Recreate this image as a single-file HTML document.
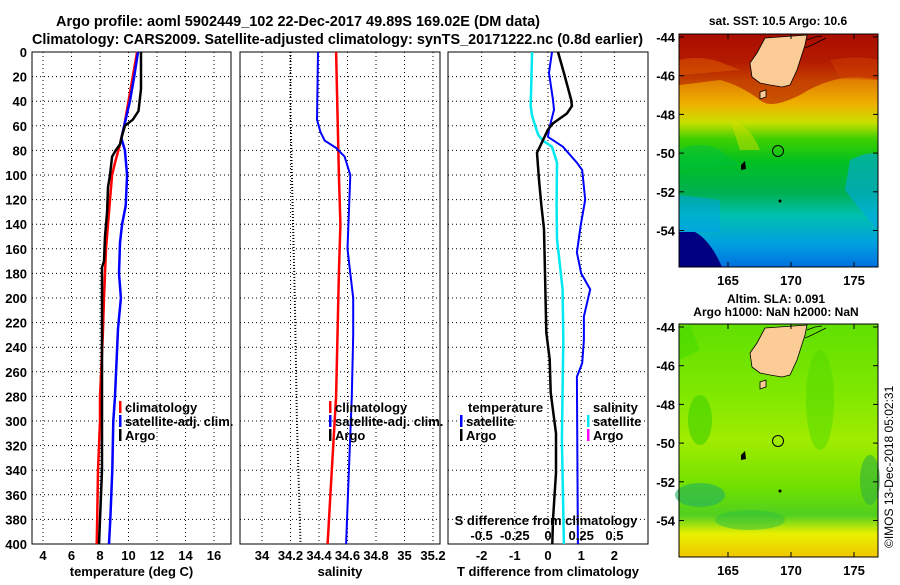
<!DOCTYPE html>
<html><head><meta charset="utf-8">
<style>
html,body{margin:0;padding:0;background:#fff;}
body{width:900px;height:580px;overflow:hidden;position:relative;font-family:"Liberation Sans",sans-serif;}
svg text{font-family:"Liberation Sans",sans-serif;font-weight:bold;}
</style></head>
<body>
<svg id="chart" width="900" height="580" viewBox="0 0 900 580" xmlns="http://www.w3.org/2000/svg">
<defs>
<linearGradient id="sstGrad" x1="0" y1="0" x2="0" y2="1">
<stop offset="0" stop-color="#a00000"/>
<stop offset="0.12" stop-color="#b82000"/>
<stop offset="0.2" stop-color="#e08000"/>
<stop offset="0.3" stop-color="#f0b000"/>
<stop offset="0.38" stop-color="#c8e000"/>
<stop offset="0.45" stop-color="#40d000"/>
<stop offset="0.55" stop-color="#00c020"/>
<stop offset="0.68" stop-color="#00b050"/>
<stop offset="0.78" stop-color="#00c0b0"/>
<stop offset="0.9" stop-color="#00a0e0"/>
<stop offset="1" stop-color="#0070e0"/>
</linearGradient>
<linearGradient id="slaGrad" x1="0" y1="0" x2="0" y2="1">
<stop offset="0" stop-color="#60e000"/>
<stop offset="0.3" stop-color="#80e800"/>
<stop offset="0.5" stop-color="#a0ec00"/>
<stop offset="0.7" stop-color="#70e000"/>
<stop offset="0.82" stop-color="#50d020"/>
<stop offset="0.9" stop-color="#e8f000"/>
<stop offset="1" stop-color="#f0c800"/>
</linearGradient>
</defs>
<g id="titles">
<text x="56" y="26" font-size="15" textLength="484" lengthAdjust="spacingAndGlyphs">Argo profile: aoml 5902449_102 22-Dec-2017 49.89S 169.02E (DM data)</text>
<text x="32" y="44" font-size="15" textLength="611" lengthAdjust="spacingAndGlyphs">Climatology: CARS2009. Satellite-adjusted climatology: synTS_20171222.nc (0.8d earlier)</text>
</g>
<g id="panels"></g>
<g id="maps">
<text x="778" y="25" font-size="12" text-anchor="middle">sat. SST: 10.5 Argo: 10.6</text>
<g>
<rect x="679" y="34" width="199" height="233" fill="url(#sstGrad)"/>
<path d="M679 34 L878 34 L878 80 Q840 70 800 95 Q770 110 760 100 Q740 85 720 80 L679 85Z" fill="#b01800" opacity="0.6"/>
<path d="M679 60 Q700 55 720 62 L740 70 L679 75Z" fill="#e06000" opacity="0.5"/>
<path d="M830 60 Q860 55 878 60 L878 80 L840 78Z" fill="#d04000" opacity="0.5"/>
<path d="M679 150 Q700 140 720 150 L740 165 L679 170Z" fill="#00c040" opacity="0.5"/>
<path d="M730 120 Q750 125 760 150 L740 150Z" fill="#d0e000" opacity="0.5"/>
<path d="M850 160 Q870 150 878 155 L878 230 Q860 210 845 190Z" fill="#00a8e8" opacity="0.6"/>
<path d="M679 232 L695 232 Q710 240 722 267 L679 267Z" fill="#000080"/>
<path d="M679 195 L720 200 L720 232 L679 232Z" fill="#00a0f0" opacity="0.5"/>
<path d="M765 38 L807 35 L805 45 L797 70 L790 85 L782 87 L770 85 L760 83 L752 77 L750 63 L757 53Z" fill="#fccc96" stroke="#000" stroke-width="0.8"/>
<path d="M760 92 L766 90 L766 97 L760 99Z" fill="#fccc96" stroke="#000" stroke-width="0.8"/>
<path d="M807 40 L815 37 L822 36 M805 48 L812 45 L818 42 L826 38" fill="none" stroke="#000" stroke-width="0.7"/>
<path d="M741 165 L745 161 L746 169 L741 170Z" fill="#000"/>
<circle cx="780" cy="201" r="1.5" fill="#000"/>
<circle cx="778" cy="151" r="5.5" fill="none" stroke="#000" stroke-width="1"/>
<rect x="679" y="34" width="199" height="233" fill="none" stroke="#000"/>
</g>
<text x="776" y="303" font-size="12" text-anchor="middle">Altim. SLA: 0.091</text>
<text x="776" y="316" font-size="12" text-anchor="middle">Argo h1000: NaN h2000: NaN</text>
<g>
<rect x="679" y="324" width="199" height="233" fill="url(#slaGrad)"/>
<ellipse cx="700" cy="420" rx="12" ry="25" fill="#40d000" opacity="0.6"/>
<ellipse cx="820" cy="400" rx="14" ry="50" fill="#50d800" opacity="0.5"/>
<ellipse cx="700" cy="495" rx="25" ry="12" fill="#20b060" opacity="0.6"/>
<ellipse cx="750" cy="520" rx="35" ry="10" fill="#30c040" opacity="0.5"/>
<ellipse cx="870" cy="480" rx="10" ry="25" fill="#30b040" opacity="0.6"/>
<path d="M679 330 L690 325 L700 350 L679 360Z" fill="#40d800" opacity="0.5"/>
<path d="M765 328 L807 325 L805 335 L797 360 L790 375 L782 377 L770 375 L760 373 L752 367 L750 353 L757 343Z" fill="#fccc96" stroke="#000" stroke-width="0.8"/>
<path d="M760 382 L766 380 L766 387 L760 389Z" fill="#fccc96" stroke="#000" stroke-width="0.8"/>
<path d="M807 330 L815 327 L822 326 M805 338 L812 335 L818 332 L826 328" fill="none" stroke="#000" stroke-width="0.7"/>
<path d="M741 455 L745 451 L746 459 L741 460Z" fill="#000"/>
<circle cx="780" cy="491" r="1.5" fill="#000"/>
<circle cx="778" cy="441" r="5.5" fill="none" stroke="#000" stroke-width="1"/>
<rect x="679" y="324" width="199" height="233" fill="none" stroke="#000"/>
</g>
<text transform="translate(893,548) rotate(-90)" font-size="12" style="font-weight:normal">©IMOS 13-Dec-2018 05:02:31</text>
<g id="mapticks"></g>
</g>
</svg>
<script>
// ---------- data ----------
const depthTicks = [0,20,40,60,80,100,120,140,160,180,200,220,240,260,280,300,320,340,360,380,400];
const tempTicks = [4,6,8,10,12,14,16];
const salTicks = [34,34.2,34.4,34.6,34.8,35,35.2];
const salTickLabels = ['34','34.2','34.4','34.6','34.8','35','35.2'];
const tdiffTicks = [-2,-1,0,1,2];
const sdiffTicks = [-0.5,-0.25,0,0.25,0.5];

const argoTDepth = [0,30,48,55,60,70,75,80,85,100,110,130,150,170,175,220,280,300,340,380,400];
const argoTemp =   [10.88,10.88,10.7,10.3,9.75,9.5,9.4,9.1,8.85,8.7,8.56,8.5,8.35,8.28,8.14,8.14,8.14,8.14,8.14,8.0,7.93];
const climTDepth = [0,20,40,60,75,90,100,120,140,160,180,200,230,280,300,340,380,400];
const climTemp =   [10.6,10.3,10.0,9.7,9.4,9.05,8.85,8.7,8.56,8.42,8.35,8.28,8.2,8.0,8.0,7.86,7.8,7.77];
const satTDepth = [0,20,40,60,70,80,100,125,140,155,180,200,225,280,300,340,380,400];
const satTemp =   [10.67,10.4,10.1,9.7,9.5,9.75,9.9,9.8,9.55,9.4,9.33,9.47,9.26,9.05,8.93,8.86,8.72,8.63];

const salDepth = [0,55,65,72,78,85,100,130,160,180,200,230,280,340,400];
const satSal =   [34.393,34.386,34.41,34.44,34.52,34.58,34.62,34.61,34.60,34.62,34.64,34.64,34.63,34.61,34.59];
const climSalDepth = [0,50,100,140,180,230,280,340,400];
const climSal =      [34.52,34.53,34.54,34.55,34.54,34.53,34.52,34.49,34.46];
const argoSalDepth = [0,50,100,200,300,400];
const argoSal =      [34.2,34.2,34.21,34.23,34.245,34.27];

const tdArgoDepth = [0,17,39,44,50,58,63,82,104,125,144,180,228,250,277,310,342,380,400];
const tdArgo =      [0.3,0.48,0.7,0.72,0.57,0.15,0,-0.33,-0.27,-0.2,-0.12,-0.09,-0.05,0.05,0.08,0.24,0.24,0.15,0.13];
const tdSatDepth = [0,17,39,47,63,69,77,90,96,120,142,163,180,193,215,234,253,264,400];
const tdSat =      [0.12,0.03,0.15,0.18,0.03,0.0,0.45,0.87,1.03,1.12,0.98,0.87,1.0,1.27,1.08,1.08,1.03,0.87,0.9];
const sdSatDepth = [0,44,52,67,72,77,90,125,152,193,234,315,400];
const sdSat =      [-0.12,-0.13,-0.12,-0.075,-0.04,0.03,0.068,0.065,0.068,0.11,0.115,0.105,0.12];

// ---------- axes ----------
const Y0 = 52, Y1 = 544;
const yD = d => Y0 + d * (Y1 - Y0) / 400;
const xT = t => 43 + (t - 4) * 14.25;
const xS = s => 262 + (s - 34) * 142.5;
const xTD = v => 548 + v * 33.2;
const xSD = v => 548 + v * 4 * 33.2;

const NS = 'http://www.w3.org/2000/svg';
const panelsG = document.getElementById('panels');
function mk(tag, attrs, parent) {
  const e = document.createElementNS(NS, tag);
  for (const k in attrs) e.setAttribute(k, attrs[k]);
  (parent || panelsG).appendChild(e);
  return e;
}
function txt(str, x, y, size, anchor, parent) {
  const t = mk('text', {x: x, y: y, 'font-size': size, 'text-anchor': anchor || 'middle'}, parent);
  t.textContent = str;
  return t;
}
function polyline(xs, ds, fx, color, width, dash, name) {
  const pts = xs.map((v, i) => fx(v).toFixed(1) + ',' + yD(ds[i]).toFixed(1)).join(' ');
  const p = mk('polyline', {points: pts, fill: 'none', stroke: color, 'stroke-width': width});
  if (dash) p.setAttribute('stroke-dasharray', dash);
  
  
  return p;
}

const panels = [
  {x0: 32, x1: 231, ticks: tempTicks, labels: tempTicks.map(String), fx: xT, title: 'temperature (deg C)', name: 'temperature-panel'},
  {x0: 240, x1: 440, ticks: salTicks, labels: salTickLabels, fx: xS, title: 'salinity', name: 'salinity-panel'},
  {x0: 448, x1: 648, ticks: tdiffTicks, labels: tdiffTicks.map(String), fx: xTD, title: 'T difference from climatology', name: 'difference-panel'}
];
panels.forEach((p, pi) => {
  const g = mk('g', {});
  
  
  depthTicks.forEach(d => {
    if (d === 0 || d === 400) return;
    const l = mk('line', {x1: p.x0, x2: p.x1, y1: yD(d), y2: yD(d), stroke: '#000', 'stroke-width': 1, 'stroke-dasharray': '1,3'}, g);
    
    
  });
  p.ticks.forEach((t, i) => {
    const x = p.fx(t);
    const l = mk('line', {x1: x, x2: x, y1: Y0, y2: Y1, stroke: '#000', 'stroke-width': 1, 'stroke-dasharray': '1,3'}, g);
    
    
    const tl = txt(p.labels[i], x, 560, 13, 'middle', g);
    
    
  });
  const fr = mk('rect', {x: p.x0, y: Y0, width: p.x1 - p.x0, height: Y1 - Y0, fill: 'none', stroke: '#000', 'stroke-width': 1}, g);
  
  
  const xt = txt(p.title, (p.x0 + p.x1) / 2, 576, 13, 'middle', g);
  
  
});
depthTicks.forEach(d => {
  const t = txt(String(d), 27, yD(d) + 5, 13, 'end');
  
  
});

polyline(climTemp, climTDepth, xT, '#ff0000', 2.5, null, 'temp-climatology-line');
polyline(satTemp, satTDepth, xT, '#0000ff', 2.5, null, 'temp-satellite-line');
polyline(argoTemp, argoTDepth, xT, '#000000', 2.5, null, 'temp-argo-line');
polyline(argoSal, argoSalDepth, xS, '#000000', 2, '1,2', 'salinity-argo-line');
polyline(climSal, climSalDepth, xS, '#ff0000', 2.5, null, 'salinity-climatology-line');
polyline(satSal, salDepth, xS, '#0000ff', 2, null, 'salinity-satellite-line');
polyline(sdSat, sdSatDepth, xSD, '#00e8f0', 2.5, null, 'sdiff-satellite-line');
polyline(tdSat, tdSatDepth, xTD, '#0000ff', 2, null, 'tdiff-satellite-line');
polyline(tdArgo, tdArgoDepth, xTD, '#000000', 2.5, null, 'tdiff-argo-line');

function legendEntry(x, y, color, label, name) {
  const g = mk('g', {});
  
  
  mk('rect', {x: x, y: y - 11, width: 2.5, height: 12, fill: color}, g);
  txt(label, x + 6, y, 13, 'start', g);
}
[[119, 'climatology-legend'], [329, 'salinity-legend']].forEach(([lx, nm]) => {
  legendEntry(lx, 412, '#ff0000', 'climatology', nm + '-climatology');
  legendEntry(lx, 426, '#0000ff', 'satellite-adj. clim.', nm + '-satellite');
  legendEntry(lx, 440, '#000000', 'Argo', nm + '-argo');
});
const lt = txt('temperature', 468, 412, 13, 'start');


legendEntry(460, 426, '#0000ff', 'satellite', 'legend-temp-satellite');
legendEntry(460, 440, '#000000', 'Argo', 'legend-temp-argo');
const ls = txt('salinity', 593, 412, 13, 'start');


legendEntry(587, 426, '#00e8f0', 'satellite', 'legend-sal-satellite');
legendEntry(587, 440, '#ff00ff', 'Argo', 'legend-sal-argo');

const st = txt('S difference from climatology', 546, 525, 13, 'middle');


sdiffTicks.forEach(v => {
  const t = txt(String(v), xSD(v), 540, 13, 'middle');
  
  
});

const mt = document.getElementById('mapticks');
const latTicks = [-44,-46,-48,-50,-52,-54];
const lonTicks = [165,170,175];
const latY = (lat, top) => top + 3 + (-44 - lat) * 19.35;
const lonX = lon => 728 + (lon - 165) * 12.6;
[34, 324].forEach(top => {
  latTicks.forEach(lat => {
    const y = latY(lat, top);
    mk('line', {x1: 679, x2: 684, y1: y, y2: y, stroke: '#000'}, mt);
    mk('line', {x1: 873, x2: 878, y1: y, y2: y, stroke: '#000'}, mt);
    const t = txt(String(lat), 675, y + 5, 13, 'end', mt);
    
    
  });
  lonTicks.forEach(lon => {
    const x = lonX(lon);
    mk('line', {x1: x, x2: x, y1: top, y2: top + 5, stroke: '#000'}, mt);
    mk('line', {x1: x, x2: x, y1: top + 228, y2: top + 233, stroke: '#000'}, mt);
    const t = txt(String(lon), x, top + 251, 13, 'middle', mt);
    
    
  });
});
</script>
</body></html>
